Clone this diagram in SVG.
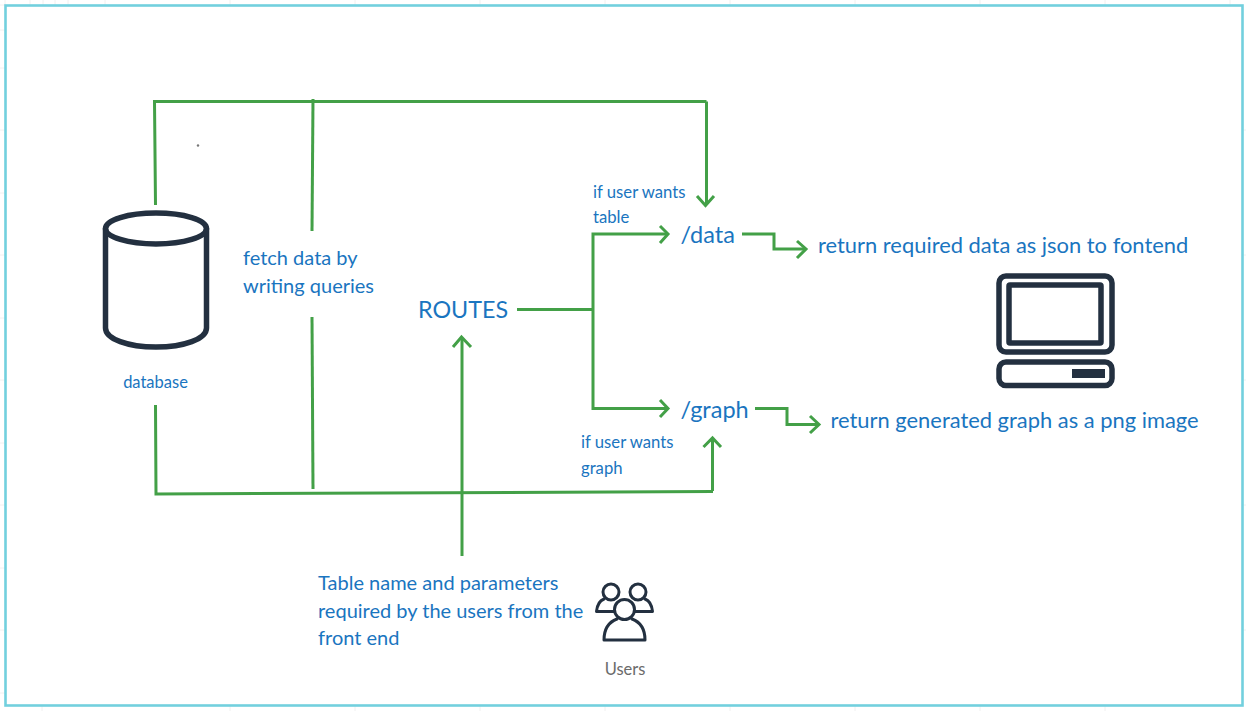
<svg xmlns="http://www.w3.org/2000/svg" width="1246" height="711" viewBox="0 0 1246 711">
<style>
text{font-family:Lato,"Open Sans",sans-serif;fill:#1a75c0}
.g{fill:none;stroke:#43a047;stroke-width:3}
.i{fill:none;stroke:#233040;stroke-width:5.500;stroke-linejoin:round;stroke-linecap:round}
.u{fill:none;stroke:#233040;stroke-width:3;stroke-linejoin:round;stroke-linecap:round}
.t20{font-size:20px}.t16{font-size:16.700px}
.grid{stroke:#f0f0f0;stroke-width:1}
</style>
<rect width="1246" height="711" fill="#fff"/>
<g class="grid"><path d="M5 0V5M30 0V5M43 0V5M55 0V5M68 0V5M105 0V5M230 0V5M355 0V5M480 0V5M605 0V5M730 0V5M855 0V5M980 0V5M1105 0V5M1230 0V5M0 5H5M0 30H5M0 68H5M0 130H5M0 193H5M0 255H5M0 318H5M0 380H5M0 443H5M0 505H5M0 568H5M0 630H5M0 693H5M42 705V711M230 705V711M355 705V711M480 705V711M605 705V711M730 705V711M855 705V711M980 705V711M1105 705V711M1243 130H1246M1243 255H1246M1243 380H1246M1243 505H1246M1243 630H1246"/></g>
<rect x="5.500" y="5.500" width="1237" height="700" fill="#fff" stroke="#72d0de" stroke-width="2.600"/>
<g id="connectors">
<path class="g" d="M155.500 205L154.500 101.500H706.500"/>
<path class="g" d="M313 99L312 231"/>
<path class="g" d="M312 317L313 489"/>
<path class="g" d="M706.500 101.500V205"/>
<path class="g" d="M697 196L705.500 205.500L714 196"/>
<path class="g" d="M155.500 405L156 494L713 491.500"/>
<path class="g" d="M712.500 491V438"/>
<path class="g" d="M703.500 447L712.500 438L721 447"/>
<path class="g" d="M462 556V338"/>
<path class="g" d="M453 347L461.500 337L471 347"/>
<path class="g" d="M517 309.500H593"/>
<path class="g" d="M660 226L668 234L660 243"/>
<path class="g" d="M668 234H593V408.500H668"/>
<path class="g" d="M660 400L668 408.500L660 417"/>
<path class="g" d="M742 234H774V249H806"/>
<path class="g" d="M797 241L806 249L797 258"/>
<path class="g" d="M755 408.500H787V424.500H819"/>
<path class="g" d="M810 416L819 424.500L810 433"/>
</g>
<g id="database">
<path class="i" d="M105.500 229V328C105.500 339 128 347 156 347S206.500 339 206.500 328V229"/>
<ellipse class="i" cx="156" cy="228.500" rx="50.500" ry="15.500"/>
<text x="155.500" y="387.500" font-size="16.500" text-anchor="middle">database</text>
</g>
<circle cx="198" cy="145.500" r="1.200" fill="#777"/>
<g id="fetch"><text class="t20" x="243" y="265">fetch data by</text><text class="t20" x="243" y="293">writing queries</text></g>
<g id="routes"><text x="418" y="317.500" font-size="23.300">ROUTES</text></g>
<g id="data-route"><text x="680.500" y="243" font-size="23.500">/data</text><text class="t16" x="593" y="198">if user wants</text><text class="t16" x="593" y="222.500">table</text></g>
<g id="graph-route"><text x="680.500" y="418" font-size="23.500">/graph</text><text class="t16" x="581" y="448">if user wants</text><text class="t16" x="581" y="473.500">graph</text></g>
<g id="return-json"><text x="818" y="253" font-size="21.900">return required data as json to fontend</text></g>
<g id="return-png"><text x="830.500" y="428" font-size="21.900">return generated graph as a png image</text></g>
<g id="frontend">
<rect class="i" x="999" y="276" width="113" height="76" rx="7"/>
<rect class="i" x="1009" y="285" width="92" height="58" rx="1"/>
<rect class="i" x="999" y="362" width="113" height="23.500" rx="7"/>
<rect x="1072" y="369" width="33" height="9" fill="#233040"/>
</g>
<g id="users">
<circle class="u" cx="611" cy="592" r="8"/>
<circle class="u" cx="638" cy="592" r="8"/>
<path class="u" d="M604 599C599 601 597 606 596.500 611.500H614"/>
<path class="u" d="M645 599C650 601 652 606 652.500 611.500H635"/>
<circle class="u" cx="624.500" cy="609.500" r="10"/>
<path class="u" d="M617 619C609 622 604 629 604 640H645C645 629 640 622 632 619"/>
<text x="625" y="675" font-size="16.500" text-anchor="middle" style="fill:#6b6b6b">Users</text>
</g>
<g id="params">
<text class="t20" x="318" y="590">Table name and parameters</text>
<text class="t20" x="318" y="618">required by the users from the</text>
<text class="t20" x="318" y="645">front end</text>
</g>
</svg>
